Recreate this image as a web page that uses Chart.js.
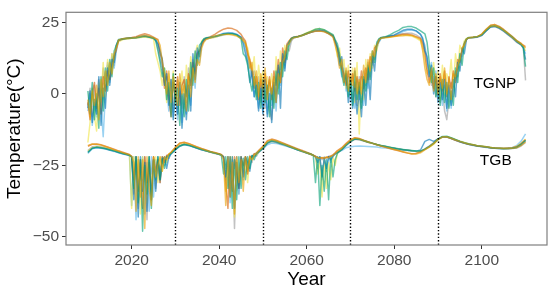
<!DOCTYPE html>
<html>
<head>
<meta charset="utf-8">
<script src="https://cdn.jsdelivr.net/npm/chart.js@4.4.1/dist/chart.umd.min.js"></script>
<style>
  html, body { margin: 0; padding: 0; background: #fff; }
  #wrap { width: 554px; height: 300px; }
</style>
</head>
<body>
<div id="wrap"><canvas id="tempChart" width="554" height="300"></canvas></div>
<script>
// ---- data ----
var xTicks = [2020, 2040, 2060, 2080, 2100];
var yTicks = [-50, -25, 0, 25];
var periodBreaks = [2030, 2050, 2070, 2090];
var groupNames = ['TGNP', 'TGB'];

// year grid for the TGNP curves (denser where the curves are noisy)
var npYears = [
  2010, 2010.5, 2011, 2011.5, 2012, 2012.5, 2013, 2013.5, 2014, 2014.5, 2015, 2015.5, 2016, 2016.5, 2017,
  2018, 2019, 2020, 2021, 2022, 2023, 2024, 2025,
  2025.5, 2026, 2026.5, 2027, 2027.5, 2028, 2028.5, 2029, 2029.5, 2030, 2030.5, 2031, 2031.5, 2032, 2032.5, 2033, 2033.5, 2034, 2034.5, 2035, 2035.5, 2036, 2036.5, 2037,
  2038, 2039, 2040, 2041, 2042, 2043, 2044, 2045,
  2045.5, 2046, 2046.5, 2047, 2047.5, 2048, 2048.5, 2049, 2049.5, 2050, 2050.5, 2051, 2051.5, 2052, 2052.5, 2053, 2053.5, 2054, 2054.5, 2055, 2055.5, 2056, 2056.5, 2057,
  2058, 2059, 2060, 2061, 2062, 2063, 2064, 2065, 2066,
  2066.5, 2067, 2067.5, 2068, 2068.5, 2069, 2069.5, 2070, 2070.5, 2071, 2071.5, 2072, 2072.5, 2073, 2073.5, 2074, 2074.5, 2075, 2075.5, 2076, 2076.5, 2077,
  2078, 2079, 2080, 2081, 2082, 2083, 2084, 2085, 2086,
  2086.5, 2087, 2087.5, 2088, 2088.5, 2089, 2089.5, 2090, 2090.5, 2091, 2091.5, 2092, 2092.5, 2093, 2093.5, 2094, 2094.5, 2095, 2095.5, 2096, 2096.5, 2097,
  2098, 2099, 2100, 2101, 2102, 2103, 2104, 2105, 2106, 2107, 2108, 2109, 2109.5, 2110
];

// year grid for the TGB curves
var gbYears = [
  2010, 2011, 2012, 2013, 2014, 2015, 2016, 2017, 2018, 2019,
  2019.5, 2020, 2020.5, 2021, 2021.5, 2022, 2022.5, 2023, 2023.5, 2024, 2024.5, 2025, 2025.5, 2026, 2026.5, 2027, 2027.5, 2028, 2028.5, 2029,
  2030, 2031, 2032, 2033, 2034, 2035, 2036, 2037, 2038, 2039, 2040,
  2040.5, 2041, 2041.5, 2042, 2042.5, 2043, 2043.5, 2044, 2044.5, 2045, 2045.5, 2046, 2046.5, 2047, 2047.5, 2048, 2048.5, 2049,
  2050, 2051, 2052, 2053, 2054, 2055, 2056, 2057, 2058, 2059, 2060, 2061,
  2061.5, 2062, 2062.5, 2063, 2063.5, 2064, 2064.5, 2065, 2065.5, 2066, 2066.5, 2067,
  2068, 2069, 2070, 2071, 2072, 2073, 2074, 2075, 2076, 2077, 2078, 2079, 2080, 2081, 2082, 2083, 2084, 2085, 2086, 2087,
  2088, 2089, 2090, 2091, 2092, 2093, 2094, 2095, 2096, 2097, 2098, 2099, 2100, 2101, 2102, 2103, 2104, 2105, 2106, 2107,
  2108, 2109, 2110
];

// TGNP temperatures, one list per run
var npOrange = [
  -2, -8, 1, -4, 3, -9, 5, -1, 8, 3, 11, 7, 14, 16, 18.8,
  19.3, 19.4, 19.5, 19.7, 20.1, 20.4, 20.1, 19.6,
  19.2, 18.8, 17, 11, 7, 0, 8, -3, 6, 1, -4, 7, 0, 3, -6, 6, -1, 9, 4, 12, 10, 16, 18, 19,
  19.6, 20.2, 20.6, 20.7, 20.8, 20.6, 20.2, 19.4,
  18.6, 17.5, 15, 9, 11, 3, 8, -1, 7, 2, 9, -2, 5, 0, 6, -3, 7, 4, 11, 13, 17, 17.5, 19, 19.6,
  19.9, 20.4, 21, 21.6, 22, 22, 21.7, 21, 19.8,
  17, 14, 9, 12, 4, 9, 1, 7, 3, 9, 0, 5, 0, 10, 4, 12, 8, 15, 13, 17, 18.7, 19.5,
  19.7, 19.8, 20, 20.2, 20.3, 20.5, 20.4, 19.8, 19,
  15, 9, 5, 3, 9, 1, 7, 0, 6, 2, 9, 0, 5, -2, 7, 6, 10, 12, 16, 17, 19.2, 19.6,
  19.8, 20, 20.8, 22.4, 23.6, 23.8, 23.2, 22.2, 21, 19.7, 18.4, 17.4, 16.8, 16
];
var npGreen = [
  1, -7, 4, -9, 0, -12, 6, -6, 9, 1, 12, 6, 15, 17, 19,
  19.3, 19.4, 19.5, 19.6, 19.9, 20.1, 19.9, 19.5,
  18.5, 15, 11, 6, 9, -2, 4, -8, 7, -3, 2, -11, 0, -8, 5, -6, 11, 3, 15, 10, 17, 18, 19.3, 19.6,
  19.8, 20.1, 20.4, 20.8, 21, 21, 20.6, 19.2,
  14, 13, 10, 5, 1, 6, -2, 4, -5, 5, -3, 3, -8, 2, -5, 8, 0, 11, 6, 15, 12, 18, 19.3, 19.8,
  20, 20.5, 21.2, 21.8, 22.6, 22.8, 22.4, 21.6, 20.7,
  19, 17.5, 14, 7, 3, 8, -1, 6, -4, 8, -2, 4, -5, 6, 1, 10, 5, 15, 11, 18, 19.3, 19.7,
  20, 20.6, 21.5, 22.2, 23.2, 23.5, 23.5, 23, 22,
  21.5, 21, 18, 11, 4, 9, -1, 3, -4, 5, -3, 4, -5, 1, -4, 9, 4, 14, 10, 17.5, 19.2, 19.7,
  19.8, 20, 20.6, 22.2, 23.6, 23.8, 23.2, 22.2, 21, 19.8, 18.4, 17.2, 16, 9.5
];
var npBlue = [
  -5, 1, -10, -2, -7, 6, -11, 2, -5, 9, 3, 12, 11, 17, 18.8,
  19.2, 19.4, 19.5, 19.7, 20, 20.2, 19.9, 19.4,
  18.8, 17.5, 15, 12, 3, 7, -4, 5, -9, 2, -7, 4, -12, 0, -9, 3, -6, 14, 5, 16, 13, 18, 19, 19.4,
  19.7, 20, 20.5, 21, 21.2, 21.2, 20.7, 19.7,
  17.5, 14, 11, 4, 8, -1, 3, -6, 2, -7, 5, -8, 0, -10, 4, -3, 10, -5, 14, 8, 17, 18, 19.3, 19.7,
  20, 20.4, 21, 21.5, 22, 22.2, 21.9, 21.1, 20.2,
  18.2, 16, 10, 13, 4, 7, -3, 4, -5, 2, -7, 1, -8, 5, -4, 9, -2, 13, 8, 17, 18.5, 19.6,
  19.8, 20.2, 20.6, 21.4, 22.2, 22.6, 22.6, 22, 20.8,
  19.5, 15, 13, 6, 10, 0, 6, -3, 4, -2, 5, -5, 3, -4, 5, -1, 11, 8, 16, 14, 19, 19.6,
  19.7, 19.9, 20.5, 22, 23.4, 23.6, 23, 22, 20.8, 19.6, 18.2, 17.2, 16.4, 12
];
var npVermillion = [
  -3, -9, 0, 4, -5, 2, -7, 6, 1, 8, 5, 10, 13, 15.5, 18.6,
  19.3, 19.5, 19.7, 20, 20.6, 21, 20.6, 19.8,
  19.4, 19, 14, 12, 2, 8, -1, -8, 4, -2, 6, -4, 3, 5, -1, 7, 3, 11, 7, 14, 15, 17, 18.6, 19.4,
  20, 20.8, 21.8, 22.6, 23, 22.8, 22.2, 20.8,
  19.5, 18.5, 14, 12, 8, 2, 6, -2, 5, -1, 7, 0, 6, -2, 8, 3, 12, 4, 16, 11, 17.5, 18.6, 19.5, 19.8,
  20.1, 20.5, 21, 21.5, 21.9, 22, 21.8, 21.1, 20.2,
  18, 16, 13, 9, 7, 3, 8, 2, 7, 1, 6, 0, 8, 2, 9, 5, 13, 11, 16, 17, 19, 19.6,
  19.8, 20, 20.2, 20.5, 20.8, 20.8, 20.6, 20, 19.4,
  17.5, 14, 8, 4, 8, 2, 6, 0, 7, 1, 8, -1, 6, 2, 8, 4, 12, 11, 15, 17.5, 19, 19.6,
  19.8, 20, 20.9, 22.6, 24, 24.2, 23.6, 22.5, 21.2, 20, 18.6, 17.6, 17, 16.5
];
var npYellow = [
  -17, -10, 2, -8, -13, 4, -3, 11, -1, 12, 5, 14, 12, 16.5, 18.2,
  19, 19.2, 19.4, 19.5, 19.7, 19.9, 19.6, 19.2,
  14, 11, 8, 3, 9, -3, 7, -1, 8, -4, 5, 1, 8, -5, 10, 2, 13, 6, 14, 17, 13, 18.5, 19.1, 19.3,
  19.5, 19.8, 20.3, 20.8, 21, 20.9, 20.4, 19.5,
  18.6, 18, 16, 12, 7, 13, -1, 10, 3, 8, -2, 6, 1, 7, -3, 13, 2, 15, 9, 17, 14, 18.5, 19.4, 19.7,
  20, 20.6, 21.4, 22, 22.6, 22.8, 22.3, 21.4, 20.5,
  18, 13, 16, 8, 12, 2, 10, 0, 9, -3, 11, -14, 6, -2, 12, 4, 14, 9, 17, 15, 18.8, 19.4,
  19.6, 19.8, 20.1, 20.4, 20.6, 20.5, 20.2, 19.5, 18.5,
  16, 12, 7, 10, 4, 11, 2, 8, -2, 10, 0, 7, 4, 12, 2, 14, 8, 17, 15, 18.5, 19.3, 19.6,
  19.7, 20, 20.8, 22.6, 24, 24.2, 23.5, 22.4, 21.2, 19.9, 18.6, 17.6, 16.8, 15
];
var npLightBlue = [
  -6, 0, -11, -3, -8, 2, -4, -15, 0, 10, 4, 13, 9, 15, 18.5,
  19.1, 19.3, 19.5, 19.8, 20.2, 20.4, 20, 19.5,
  19, 17, 13, 10, 5, 1, -6, 3, -8, 0, -9, 4, -10, 1, -7, 4, -4, 10, 2, 14, 11, 17, 18.5, 19.3,
  19.6, 20, 20.6, 21.2, 21.4, 21.3, 20.9, 19.8,
  18.5, 16, 12, 9, 5, -1, 4, -5, 3, -6, 1, -7, 4, -4, 6, -6, 8, 3, 12, 9, 16, 17, 19, 19.6,
  19.9, 20.5, 21.1, 21.7, 22.1, 22.4, 22.1, 21.2, 20.2,
  18.5, 15, 12, 6, 9, 1, 6, -3, 3, -5, 5, -2, 6, -4, 7, 2, 11, 10, 14, 16, 18, 19.4,
  19.7, 20.1, 20.3, 21, 21.8, 22.2, 22.3, 22, 20.8,
  19, 17, 12, 6, 11, 2, 8, -1, 5, -4, 3, -6, 4, -5, 2, 7, 9, 14, 13, 17, 19, 19.6,
  19.7, 19.9, 20.6, 22.2, 23.4, 23.6, 23, 22, 20.8, 19.6, 18.2, 17.2, 16.2, 14
];
var npGray = [
  -4, 2, -8, 3, -6, 5, -2, 9, 2, 11, 6, 14, 10, 17, 18.5,
  19.2, 19.3, 19.4, 19.5, 19.8, 20, 19.8, 19.4,
  18.8, 16, 12, 9, 4, 6, -2, 5, -4, 3, -7, 2, -5, 6, -3, 9, 2, 12, 8, 15, 13, 17.5, 18.5, 19.2,
  19.5, 19.8, 20.2, 20.6, 21, 21, 20.7, 19.8,
  19, 17, 13, 11, 6, 8, 2, 6, -3, 4, -5, 2, -6, -9, 3, 0, 9, 5, 13, 10, 16, 15, 18.5, 19.5,
  20, 20.6, 21.2, 21.8, 22.3, 22.5, 22.2, 21.3, 20.4,
  18.5, 16, 12, 9, 5, 7, 1, 5, -2, 4, -4, 6, -3, 8, 3, 11, 6, 14, 12, 17, 18.5, 19.5,
  19.9, 20.2, 20.4, 20.8, 21, 21.2, 21.2, 20.6, 19.6,
  18.5, 16, 11, 8, 3, 6, -1, 5, -3, 2, -6, -9, -2, 4, -1, 8, 6, 13, 15, 18, 19.2, 19.6,
  19.6, 19.8, 20.4, 22, 23.4, 23.5, 22.8, 21.8, 20.6, 19.4, 18, 17, 16, 4.7
];

// TGB temperatures, one list per run
var gbOrange = [
  -18, -17.5, -17.6, -17.9, -18.4, -18.9, -19.5, -20, -20.6, -21.1,
  -21.3, -21.8, -24, -41, -22, -36, -23, -47, -22, -33, -39, -22, -29, -25, -22, -27, -22, -23, -21, -20.5,
  -18.6, -17.3, -17, -17.4, -18, -18.6, -19.2, -19.7, -20.2, -20.6, -21,
  -21.3, -23, -39, -22, -36, -24, -42, -22, -31, -23, -34, -22, -27, -22, -23, -21.5, -21, -20,
  -18.5, -16.6, -16, -16.4, -17, -17.6, -18.2, -18.8, -19.4, -20, -20.6, -21.2,
  -21.5, -22, -22.3, -22.5, -22.2, -22.6, -22, -22.4, -21.8, -21.5, -20.8, -20,
  -19, -17.5, -16.2, -15.4, -15.7, -16.3, -16.8, -17.3, -17.8, -18.2, -18.6, -19, -19.4, -19.8, -20.2, -20.6, -21, -21, -20.6, -19.6,
  -18.6, -17.4, -15.8, -15, -15, -15.5, -16.1, -16.6, -17.1, -17.5, -17.8, -18.1, -18.3, -18.5, -18.7, -18.9, -19, -19.1, -19.1, -19,
  -18.8, -18, -16.8
];
var gbGreen = [
  -20.5, -19, -18.6, -18.8, -19.1, -19.5, -19.9, -20.4, -20.8, -21.2,
  -21.5, -22, -33, -22, -38, -23, -48, -25, -35, -22, -40, -23, -30, -22, -30, -22.5, -26, -22, -21.5, -20.8,
  -19.4, -18.2, -17.6, -17.9, -18.4, -18.9, -19.4, -19.9, -20.3, -20.7, -21.1,
  -21.4, -28, -22, -33, -22, -40, -23, -37, -22, -33, -22.5, -30, -22, -26, -21.5, -23, -20.8, -20.2,
  -18.9, -17, -16.3, -16.6, -17.2, -17.7, -18.3, -18.9, -19.5, -20.1, -20.6, -21.1,
  -21.5, -31, -22, -39, -25, -34, -23, -37, -22, -29, -23, -20.8,
  -19.4, -17.8, -16.5, -15.7, -15.8, -16.3, -16.8, -17.2, -17.7, -18, -18.3, -18.6, -18.9, -19.2, -19.4, -19.6, -19.8, -20, -20, -19.3,
  -18.4, -17.3, -15.8, -14.9, -14.8, -15.3, -15.9, -16.5, -17, -17.4, -17.8, -18.1, -18.3, -18.5, -18.7, -18.9, -19, -19.1, -19.1, -19,
  -18.6, -17.6, -16.2
];
var gbBlue = [
  -20.4, -19, -18.7, -18.9, -19.2, -19.6, -20, -20.5, -20.9, -21.3,
  -21.5, -22, -37, -22, -43, -22, -34, -24, -41, -22, -37, -23, -34, -22, -30, -23, -22, -26, -22, -20.9,
  -19.5, -18.2, -17.7, -18, -18.5, -19, -19.5, -19.9, -20.3, -20.7, -21.1,
  -21.4, -22, -29, -22, -36, -22, -40, -24, -33, -22, -29, -22, -24, -27, -21.5, -22, -21, -20.4,
  -19.1, -17.3, -16.6, -16.9, -17.4, -17.9, -18.5, -19, -19.6, -20.1, -20.7, -21.2,
  -21.5, -22, -24, -22, -29, -22.5, -26, -22, -23, -21.8, -21, -20.5,
  -19.5, -18, -16.7, -15.8, -15.9, -16.4, -16.9, -17.3, -17.8, -18.1, -18.4, -18.7, -19, -19.3, -19.5, -19.7, -19.9, -20, -19.6, -16.6,
  -15.9, -16.6, -15.7, -15, -15, -15.5, -16.1, -16.7, -17.2, -17.6, -17.9, -18.2, -18.4, -18.6, -18.8, -19, -19.1, -19.2, -19.1, -19,
  -18.7, -17.8, -16.4
];
var gbVermillion = [
  -18.3, -17.6, -17.5, -17.8, -18.3, -18.8, -19.3, -19.9, -20.4, -20.9,
  -21.2, -21.8, -30, -22, -34, -23, -40, -22, -31, -24, -37, -22, -27, -23, -31, -22, -24, -21.5, -21.2, -20.4,
  -18.7, -17.2, -16.9, -17.3, -17.9, -18.5, -19.1, -19.6, -20.1, -20.5, -20.9,
  -21.2, -22, -31, -40, -22, -34, -22, -28, -33, -22, -25, -22, -28, -22, -22, -21, -20.6, -19.8,
  -18.3, -16.4, -15.8, -16.2, -16.8, -17.4, -18, -18.6, -19.2, -19.8, -20.4, -21,
  -21.4, -21.8, -22.2, -22.4, -22.3, -22.5, -22.2, -22, -21.7, -21.3, -20.6, -19.8,
  -18.8, -17.3, -16, -15.3, -15.6, -16.2, -16.7, -17.2, -17.7, -18.2, -18.7, -19.1, -19.5, -19.9, -20.3, -20.7, -20.9, -20.8, -20.2, -19.3,
  -18.3, -17.2, -15.8, -15.1, -15.1, -15.6, -16.2, -16.7, -17.2, -17.6, -17.9, -18.2, -18.4, -18.6, -18.8, -18.9, -19, -19, -18.9, -18.8,
  -18.4, -17.4, -16
];
var gbYellow = [
  -20, -18.8, -18.5, -18.7, -19, -19.4, -19.8, -20.3, -20.7, -21.1,
  -21.3, -40, -22, -30, -23, -42, -22, -27, -38, -22, -32, -24, -22, -31, -22, -27, -22, -24, -21, -20.6,
  -19.3, -18.1, -17.6, -17.9, -18.4, -18.9, -19.4, -19.9, -20.3, -20.7, -21,
  -21.3, -22, -34, -23, -28, -22, -43, -23, -30, -22, -26, -22, -31, -22, -23, -21, -21.4, -20.3,
  -19, -17.2, -16.6, -16.9, -17.4, -17.9, -18.4, -19, -19.5, -20.1, -20.6, -21.1,
  -21.4, -22, -28, -23, -36, -23, -33, -24, -30, -22, -25, -20.6,
  -19.3, -17.8, -16.6, -15.8, -15.9, -16.4, -16.9, -17.3, -17.7, -18.1, -18.4, -18.7, -19, -19.3, -19.5, -19.7, -19.9, -20.1, -20.1, -19.4,
  -18.6, -17.6, -16.1, -15.2, -15, -15.4, -16, -16.6, -17.1, -17.5, -17.8, -18.1, -18.3, -18.5, -18.7, -18.9, -19, -19.1, -19, -18.8,
  -18.3, -17.2, -15.8
];
var gbLightBlue = [
  -20.8, -19.2, -18.8, -19, -19.3, -19.7, -20.1, -20.6, -21, -21.4,
  -21.6, -39, -22, -44, -23, -30, -22, -42, -24, -41, -22, -36, -23, -27, -31, -22, -25, -22, -22.5, -21,
  -19.6, -18.3, -17.8, -18, -18.5, -19, -19.5, -19.9, -20.3, -20.7, -21.1,
  -21.4, -22, -30, -22, -38, -23, -26, -22, -35, -22, -30, -23, -26, -22, -22.5, -21, -21.5, -20.5,
  -19.2, -17.8, -17.2, -17.3, -17.7, -18.1, -18.6, -19.1, -19.6, -20.1, -20.6, -21.1,
  -21.5, -22, -26, -22, -30, -22.5, -27, -22, -24, -21.5, -21, -20.3,
  -19.8, -18.8, -18.5, -18.3, -18.2, -18.3, -18.4, -18.5, -18.6, -18.8, -18.9, -19.1, -19.3, -19.5, -19.7, -19.8, -20, -20.1, -20.1, -19.2,
  -18.2, -17, -15.7, -15, -15.1, -15.6, -16.2, -16.8, -17.3, -17.7, -18, -18.3, -18.5, -18.7, -18.9, -19, -19.1, -19.1, -19, -18.7,
  -18, -16.5, -14
];
var gbGray = [
  -19.8, -18.5, -18.3, -18.5, -18.9, -19.3, -19.8, -20.3, -20.7, -21.2,
  -21.4, -22, -35, -22, -40, -24, -30, -22, -44, -23, -28, -22, -33, -23, -27, -22, -24, -21.5, -22.5, -20.8,
  -19.2, -18, -17.5, -17.8, -18.4, -19, -19.5, -20, -20.4, -20.8, -21.2,
  -21.5, -22, -26, -22, -33, -23, -47, -22, -35, -23, -28, -22, -27, -21.5, -24, -21, -21.8, -20.4,
  -19, -17.1, -16.4, -16.7, -17.3, -17.8, -18.4, -19, -19.6, -20.2, -20.7, -21.2,
  -21.5, -21.8, -22.5, -22, -23, -22, -22.5, -21.8, -22, -21.5, -21, -20.5,
  -19.6, -18, -16.8, -15.9, -16, -16.5, -16.9, -17.3, -17.8, -18.1, -18.4, -18.7, -19, -19.3, -19.5, -19.7, -19.9, -20.1, -20.1, -19.4,
  -18.5, -17.5, -16, -15.1, -15, -15.5, -16.1, -16.7, -17.2, -17.6, -17.9, -18.2, -18.4, -18.6, -18.8, -19, -19.1, -19.2, -19.2, -19.1,
  -18.9, -18.2, -17
];

// first listed run is drawn on top
var runColors = ['#E69F00', '#009E73', '#0072B2', '#D55E00', '#F0E442', '#56B4E9', '#999999'];
var npRuns = [npOrange, npGreen, npBlue, npVermillion, npYellow, npLightBlue, npGray];
var gbRuns = [gbOrange, gbGreen, gbBlue, gbVermillion, gbYellow, gbLightBlue, gbGray];

var FONT = '"Liberation Sans", Arial, Helvetica, sans-serif';

function withAlpha(hex, a) {
  var n = parseInt(hex.slice(1), 16);
  return 'rgba(' + (n >> 16) + ',' + ((n >> 8) & 255) + ',' + (n & 255) + ',' + a + ')';
}

function toPoints(years, vals) {
  return vals.map(function (v, i) { return { x: years[i], y: v }; });
}

var datasets = [];
runColors.forEach(function (col, i) {
  datasets.push({ label: 'TGNP ' + i, data: toPoints(npYears, npRuns[i]), borderColor: withAlpha(col, 0.6) });
  datasets.push({ label: 'TGB ' + i, data: toPoints(gbYears, gbRuns[i]), borderColor: withAlpha(col, 0.6) });
});

// dotted period lines, group labels and the panel frame
var decorations = {
  id: 'decorations',
  afterDatasetsDraw: function (chart) {
    var ctx = chart.ctx, a = chart.chartArea;
    var xs = chart.scales.x, ys = chart.scales.y;
    ctx.save();
    ctx.strokeStyle = '#000';
    ctx.lineWidth = 1.4;
    ctx.setLineDash([1.4, 2.0]);
    periodBreaks.forEach(function (yr) {
      var px = Math.round(xs.getPixelForValue(yr)) + 0.5;
      ctx.beginPath();
      ctx.moveTo(px, a.top);
      ctx.lineTo(px, a.bottom);
      ctx.stroke();
    });
    ctx.setLineDash([]);

    var labelAt = [[2103, 3.5], [2103.2, -23.3]];
    ctx.fillStyle = '#000';
    ctx.font = '15.5px ' + FONT;
    ctx.textAlign = 'center';
    ctx.textBaseline = 'middle';
    groupNames.forEach(function (name, i) {
      ctx.fillText(name, xs.getPixelForValue(labelAt[i][0]), ys.getPixelForValue(labelAt[i][1]));
    });

    ctx.strokeStyle = '#7f7f7f';
    ctx.lineWidth = 1.2;
    ctx.strokeRect(a.left, a.top, a.right - a.left, a.bottom - a.top);
    ctx.restore();
  }
};

var ctx = document.getElementById('tempChart').getContext('2d');
var tempChart = new Chart(ctx, {
  type: 'line',
  data: { datasets: datasets },
  options: {
    responsive: false,
    animation: false,
    devicePixelRatio: 1,
    layout: { padding: { top: 8, right: 7, left: 0, bottom: 0 } },
    elements: {
      point: { radius: 0 },
      line: { borderWidth: 1.5, tension: 0, fill: false, borderJoinStyle: 'round' }
    },
    plugins: { legend: { display: false }, tooltip: { enabled: false } },
    scales: {
      x: {
        type: 'linear',
        min: 2005,
        max: 2114.9,
        afterBuildTicks: function (axis) { axis.ticks = xTicks.map(function (v) { return { value: v }; }); },
        afterFit: function (axis) { axis.height = 55; },
        grid: { drawOnChartArea: false, drawTicks: true, tickLength: 4, color: '#333333' },
        border: { display: false },
        ticks: {
          padding: 2,
          color: '#4D4D4D',
          font: { family: FONT, size: 15.5 },
          maxRotation: 0,
          callback: function (v) { return String(v); }
        },
        title: {
          display: true,
          text: 'Year',
          color: '#000',
          font: { family: FONT, size: 19 },
          padding: { top: 0, bottom: 9 }
        }
      },
      y: {
        type: 'linear',
        min: -52.8,
        max: 28.5,
        afterBuildTicks: function (axis) { axis.ticks = yTicks.map(function (v) { return { value: v }; }); },
        afterFit: function (axis) { axis.width = 66; },
        grid: { drawOnChartArea: false, drawTicks: true, tickLength: 4, color: '#333333' },
        border: { display: false },
        ticks: {
          padding: 3,
          color: '#4D4D4D',
          font: { family: FONT, size: 15.5 },
          callback: function (v) { return String(v).replace('-', '\u2212'); }
        },
        title: {
          display: true,
          text: 'Temperature(\u00B0C)',
          color: '#000',
          font: { family: FONT, size: 19 },
          padding: { top: 3, bottom: 0 }
        }
      }
    }
  },
  plugins: [decorations]
});
</script>
</body>
</html>
